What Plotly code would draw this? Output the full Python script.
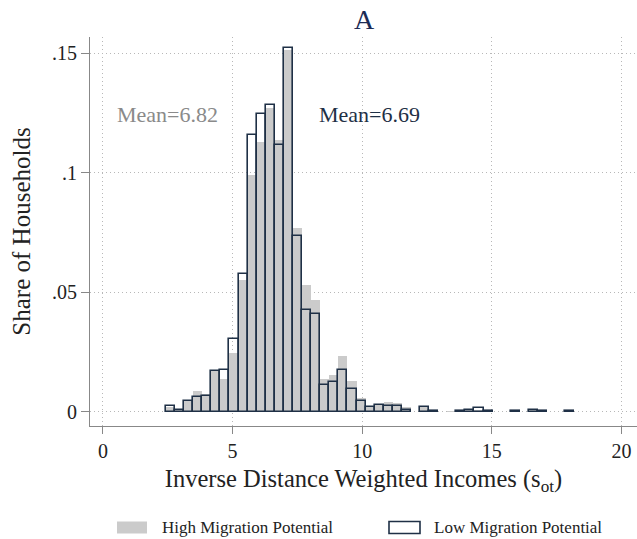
import plotly.graph_objects as go

# Histogram bin centres (bin width 0.35)
bin_centers = [2.605, 2.955, 3.305, 3.655, 4.005, 4.355, 4.705, 5.055, 5.405, 5.755,
               6.105, 6.455, 6.805, 7.155, 7.505, 7.855, 8.205, 8.555, 8.905, 9.255,
               9.605, 9.955, 10.305, 10.655, 11.005, 11.355, 11.705, 12.055, 12.405, 12.755,
               13.105, 13.455, 13.805, 14.155, 14.505, 14.855, 15.205, 15.555, 15.905, 16.255,
               16.605, 16.955, 17.305, 17.655, 18.005]
bin_width = 0.35

high_share = [0.0022, 0.0006, 0.0046, 0.0089, 0.0077, 0.0170, 0.0138, 0.0247, 0.0551, 0.0990,
              0.1128, 0.1273, 0.1139, 0.1513, 0.0771, 0.0530, 0.0467, 0.0136, 0.0155, 0.0233,
              0.0129, 0.0057, 0.0025, 0.0033, 0.0043, 0.0036, 0.0022, None, 0.0020, None,
              None, 0.0003, 0.0002, 0.0005, 0.0010, 0.0004, None, None, 0.0002, None,
              0.0005, 0.0002, None, None, 0.0003]

low_share = [0.0025, 0.0008, 0.0046, 0.0061, 0.0068, 0.0172, 0.0174, 0.0305, 0.0576, 0.1160,
             0.1244, 0.1284, 0.1117, 0.1520, 0.0735, 0.0428, 0.0411, 0.0112, 0.0125, 0.0174,
             0.0095, 0.0045, 0.0019, 0.0030, 0.0023, 0.0023, 0.0009, None, 0.0022, 0.0003,
             None, None, 0.0004, 0.0007, 0.0016, 0.0004, None, None, 0.0004, None,
             0.0007, 0.0003, None, None, 0.0004]

y_tickvals = [0, 0.05, 0.1, 0.15]
y_ticktext = ["0", ".05", ".1", ".15"]
x_tickvals = [0, 5, 10, 15, 20]

mean_high = "Mean=6.82"
mean_low = "Mean=6.69"

FONT = "Liberation Serif"
NAVY = "#1f3046"
GRAY_FILL = "#cbcbcb"
GRID = "#b8b8b8"
GRID_DASH = "1px,3px"

PLOT_L, PLOT_R, PLOT_T, PLOT_B = 90, 637, 37, 426
PW, PH = PLOT_R - PLOT_L, PLOT_B - PLOT_T


def px_x(p):
    return (p - PLOT_L) / PW


def px_y(p):
    return (PLOT_B - p) / PH


fig = go.Figure()
fig.add_trace(go.Bar(x=bin_centers, y=high_share, width=bin_width,
                     marker=dict(color=GRAY_FILL, line=dict(width=0)),
                     name="High Migration Potential", showlegend=False))
fig.add_trace(go.Bar(x=bin_centers, y=low_share, width=bin_width,
                     marker=dict(color="rgba(0,0,0,0)", line=dict(color=NAVY, width=1.6)),
                     name="Low Migration Potential", showlegend=False))

fig.update_layout(
    width=637, height=539,
    barmode="overlay", bargap=0,
    paper_bgcolor="white", plot_bgcolor="white",
    margin=dict(l=PLOT_L, r=637 - PLOT_R, t=PLOT_T, b=539 - PLOT_B, autoexpand=False),
    font=dict(family=FONT, color="#222222"),
    xaxis=dict(range=[-0.5, 20.6], tickvals=x_tickvals, ticks="outside", ticklen=7,
               tickcolor="#888888", showline=True, linecolor="#888888", linewidth=1.2,
               showgrid=True, gridcolor=GRID, griddash=GRID_DASH, gridwidth=1,
               zeroline=False, automargin=False, tickfont=dict(size=20, color="#222222"),
               title=dict(text="Inverse Distance Weighted Incomes (s<sub>ot</sub>)",
                          font=dict(size=24.5, color="#222222"), standoff=8)),
    yaxis=dict(range=[-0.00586, 0.1568], tickvals=y_tickvals, ticktext=y_ticktext,
               ticks="outside", ticklen=8, tickcolor="#888888", showline=True,
               linecolor="#888888", linewidth=1.2, showgrid=True, gridcolor=GRID,
               griddash=GRID_DASH, gridwidth=1, zeroline=False, automargin=False,
               tickfont=dict(size=20, color="#222222"),
               title=dict(text="Share of Households", font=dict(size=25, color="#222222"),
                          standoff=14)),
)

# Panel title
fig.add_annotation(xref="paper", yref="paper", x=px_x(364), y=px_y(20),
                   xanchor="center", yanchor="middle", showarrow=False, text="A",
                   font=dict(family=FONT, size=28, color="#1c2b55"))

fig.add_annotation(x=2.5, y=0.1246, text=mean_high, showarrow=False, xref="x", yref="y",
                   font=dict(family=FONT, size=22, color="#8a8a8a"))
fig.add_annotation(x=10.3, y=0.1246, text=mean_low, showarrow=False, xref="x", yref="y",
                   font=dict(family=FONT, size=22, color=NAVY))

# Manual legend (Stata style) below the plot
fig.add_shape(type="rect", xref="paper", yref="paper",
              x0=px_x(117), x1=px_x(147), y0=px_y(533.5), y1=px_y(521.5),
              fillcolor=GRAY_FILL, line=dict(width=0))
fig.add_annotation(xref="paper", yref="paper", x=px_x(160), y=px_y(527.5),
                   xanchor="left", yanchor="middle", showarrow=False,
                   text="High Migration Potential", font=dict(family=FONT, size=17, color="#222222"))
fig.add_shape(type="rect", xref="paper", yref="paper",
              x0=px_x(389), x1=px_x(420), y0=px_y(533.5), y1=px_y(521.5),
              fillcolor="white", line=dict(color=NAVY, width=1.6))
fig.add_annotation(xref="paper", yref="paper", x=px_x(432), y=px_y(527.5),
                   xanchor="left", yanchor="middle", showarrow=False,
                   text="Low Migration Potential", font=dict(family=FONT, size=17, color="#222222"))

fig.write_html("out.html", config={"displayModeBar": False},
               post_script="document.body.style.margin='0';document.body.style.padding='0';")
